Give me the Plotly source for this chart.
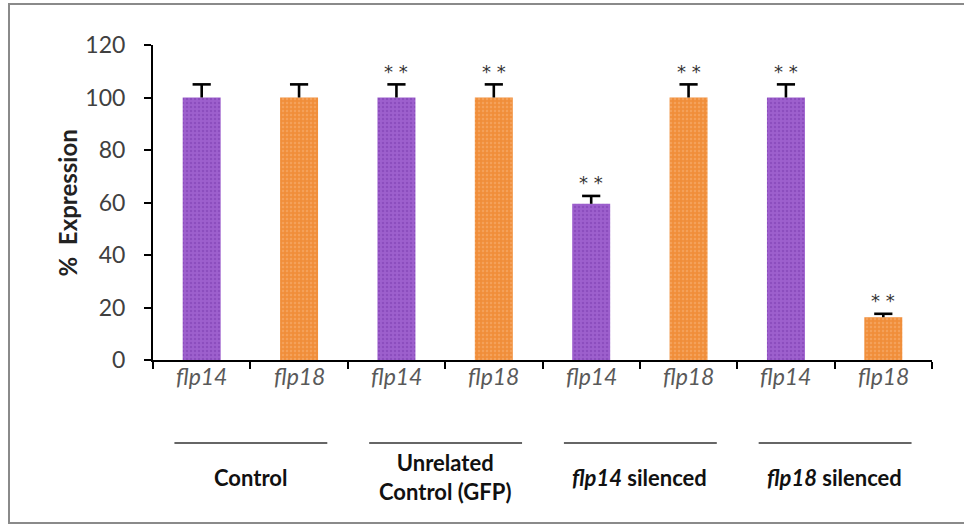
import plotly.graph_objects as go

genes = ["flp14", "flp18", "flp14", "flp18", "flp14", "flp18", "flp14", "flp18"]
values = [100, 100, 100, 100, 59.5, 100, 100, 16.3]
errors = [5, 5, 5, 5, 3, 5, 5, 1.3]
significant = [False, False, True, True, True, True, True, True]
groups = ["Control", "Unrelated<br>Control (GFP)", "<i>flp14</i> silenced", "<i>flp18</i> silenced"]
yticks = [0, 20, 40, 60, 80, 100, 120]

W, H = 964, 524
L, R, T, B = 153, 32, 45, 164
PW, PH = W - L - R, H - T - B

def px(xp):
    return (xp - L) / PW

def py(yp):
    return (H - B - yp) / PH

purple, purple_dark = "#9D60CD", "#7A3BAE"
orange, orange_light = "#F08E3A", "#F8B47A"
colors = [purple if i % 2 == 0 else orange for i in range(8)]
fg = [purple_dark if i % 2 == 0 else orange_light for i in range(8)]

xs = list(range(8))
tops = [v + e for v, e in zip(values, errors)]

fig = go.Figure()
for i in xs:
    fig.add_trace(go.Bar(
        x=[i], y=[values[i]], width=0.39,
        marker=dict(color=colors[i], line=dict(width=0),
                    pattern=dict(shape=".", fgcolor=fg[i], size=4, solidity=0.3,
                                 fillmode="overlay")),
    ))

stem_x, stem_y = [], []
for i in xs:
    stem_x += [i, i, None]
    stem_y += [values[i], tops[i], None]
fig.add_trace(go.Scatter(x=stem_x, y=stem_y, mode="lines",
                         line=dict(color="black", width=2.6), hoverinfo="skip"))
fig.add_trace(go.Scatter(x=xs, y=tops, mode="markers", hoverinfo="skip",
                         marker=dict(symbol="line-ew-open", size=13, color="black",
                                     line=dict(color="black", width=2.6))))

font = "Lato, Open Sans, sans-serif"
ann = []
for i, g in enumerate(genes):
    ann.append(dict(x=i, y=0, xref="x", yref="paper", yshift=-16, yanchor="middle",
                    text=f"<i>{g}</i>", showarrow=False,
                    font=dict(family=font, size=23, color="#595959")))
    if significant[i]:
        ann.append(dict(x=i, y=tops[i], xref="x", yref="y", yshift=13,
                        yanchor="middle", text="* *", showarrow=False,
                        font=dict(family="DejaVu Sans", size=18, color="#333333")))

shapes = []
for k, g in enumerate(groups):
    c = 2 * k + 0.5
    shapes.append(dict(type="line", xref="x", yref="paper", x0=c - 0.78, x1=c + 0.79,
                       y0=py(443), y1=py(443), line=dict(color="#333333", width=1.5)))
    ann.append(dict(x=c, y=py(477), xref="x", yref="paper",
                    yanchor="middle", text=f"<b>{g}</b>", showarrow=False,
                    font=dict(family=font, size=22, color="#111111")))

ann.append(dict(x=px(50), y=py(203), xref="paper", yref="paper", textangle=-90,
                text="<b>%  Expression</b>", showarrow=False,
                font=dict(family=font, size=24, color="#222222")))

shapes.append(dict(type="rect", xref="paper", yref="paper", x0=px(9), x1=px(980),
                   y0=py(4), y1=py(523), line=dict(color="#8a8a8a", width=2)))

fig.update_layout(
    width=W, height=H, margin=dict(l=L, r=R, t=T, b=B),
    paper_bgcolor="white", plot_bgcolor="white", showlegend=False,
    annotations=ann, shapes=shapes, barmode="overlay",
    xaxis=dict(range=[-0.5, 7.5], tickvals=[i - 0.5 for i in range(9)], showticklabels=False,
               ticks="outside", ticklen=7, tickwidth=2, tickcolor="black",
               showline=True, linecolor="black", linewidth=2, showgrid=False, zeroline=False),
    yaxis=dict(range=[0, 120], tickvals=yticks, ticks="outside", ticklen=7, tickwidth=2,
               tickcolor="black", showline=True, linecolor="black", linewidth=2,
               showgrid=False, zeroline=False, ticklabelstandoff=14,
               tickfont=dict(family=font, size=23, color="#404040")),
)

fig.write_html("out.html", config={"displayModeBar": False},
               post_script="document.body.style.margin='0';document.body.style.overflow='hidden';")
